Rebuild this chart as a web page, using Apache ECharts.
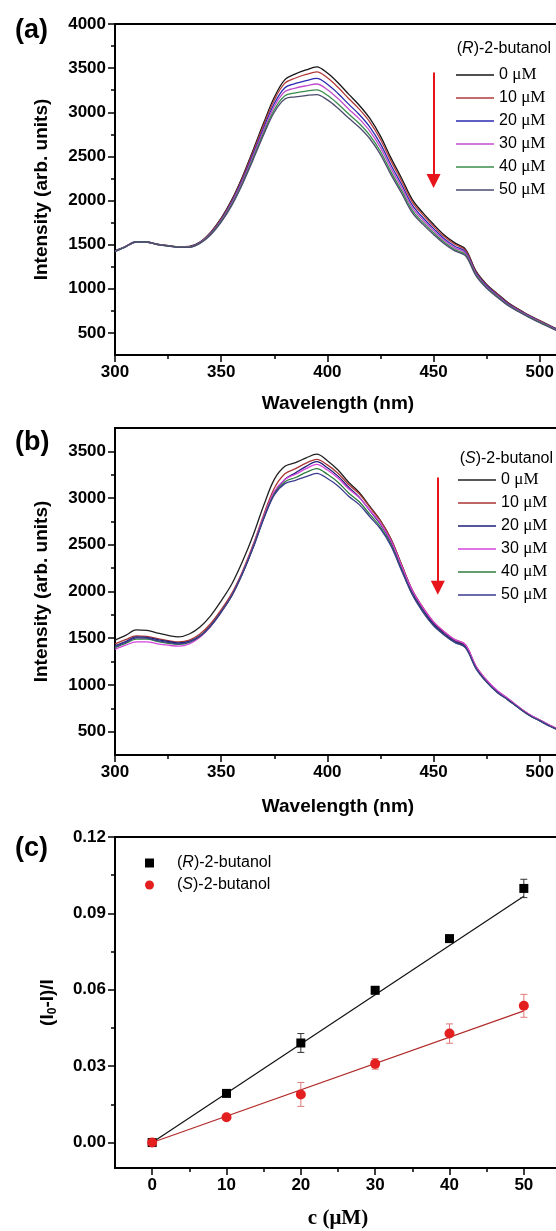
<!DOCTYPE html>
<html>
<head>
<meta charset="utf-8">
<script src="https://cdn.jsdelivr.net/npm/echarts@6/dist/echarts.min.js"></script>
<style>
  html, body { margin: 0; padding: 0; background: #fff; }
  #chart { width: 556px; height: 1231px; }
</style>
</head>
<body>
<div id="chart"></div>
<script>
// ---- data -------------------------------------------------------------
const wavelengths = [300,305,310,315,320,325,330,335,340,345,350,355,360,365,370,375,380,385,390,395,400,405,410,415,420,425,430,435,440,445,450,455,460,465,470,475,480,485,490,495,500,505,510];
const concentrations = [0, 10, 20, 30, 40, 50];

// (R)-2-butanol emission spectra
const rSpectrum0  = [1430,1480,1535,1530,1505,1490,1475,1480,1530,1640,1800,2010,2270,2570,2880,3170,3370,3435,3480,3515,3445,3335,3205,3080,2930,2730,2480,2250,2010,1860,1730,1610,1520,1450,1200,1050,945,845,770,700,640,580,525];
const rSpectrum10 = [1428,1479,1534,1530,1504,1489,1474,1478,1527,1635,1792,1998,2255,2550,2856,3139,3330,3388,3428,3458,3390,3283,3156,3035,2889,2692,2446,2219,1983,1837,1709,1592,1504,1437,1190,1042,938,839,765,696,636,576,521];
const rSpectrum20 = [1426,1478,1533,1530,1503,1488,1473,1476,1524,1627,1781,1983,2234,2524,2823,3099,3278,3326,3358,3383,3317,3213,3092,2975,2833,2642,2400,2179,1947,1805,1682,1568,1482,1419,1177,1031,928,830,757,690,630,572,517];
const rSpectrum30 = [1424,1477,1532,1530,1502,1487,1472,1474,1521,1621,1772,1970,2217,2502,2796,3065,3234,3274,3300,3320,3256,3155,3038,2925,2787,2600,2362,2145,1917,1779,1659,1548,1464,1404,1166,1022,920,823,751,685,625,568,513];
const rSpectrum40 = [1422,1476,1531,1530,1501,1486,1471,1472,1518,1615,1763,1956,2199,2479,2768,3029,3187,3219,3239,3254,3192,3094,2981,2873,2739,2556,2322,2109,1886,1752,1635,1527,1445,1388,1154,1013,912,816,745,679,619,563,508];
const rSpectrum50 = [1420,1475,1530,1530,1500,1485,1470,1470,1515,1610,1755,1945,2185,2460,2745,3000,3150,3175,3190,3200,3140,3045,2935,2830,2700,2520,2290,2080,1860,1730,1615,1510,1430,1375,1145,1005,905,810,740,675,615,560,505];

// (S)-2-butanol emission spectra
const sSpectrum0  = [1480,1530,1590,1585,1555,1530,1515,1545,1620,1740,1900,2080,2320,2600,2920,3200,3340,3380,3430,3470,3400,3300,3170,3060,2910,2760,2560,2280,2010,1820,1665,1560,1475,1420,1190,1040,930,850,760,680,620,560,510];
const sSpectrum10 = [1440,1485,1525,1520,1495,1475,1460,1480,1545,1655,1805,1980,2215,2500,2820,3105,3260,3315,3375,3415,3355,3265,3145,3045,2900,2755,2560,2285,2015,1830,1675,1570,1485,1430,1200,1050,935,855,765,685,625,565,515];
const sSpectrum20 = [1420,1465,1515,1510,1485,1465,1450,1465,1525,1635,1785,1960,2195,2475,2790,3060,3200,3270,3340,3390,3325,3235,3115,3010,2865,2720,2525,2250,1985,1800,1650,1545,1465,1410,1185,1035,925,845,755,680,620,560,510];
const sSpectrum30 = [1380,1425,1460,1460,1440,1425,1415,1440,1510,1625,1780,1960,2200,2485,2800,3070,3200,3255,3315,3360,3300,3215,3100,3005,2870,2730,2540,2270,2010,1825,1675,1570,1485,1430,1200,1050,940,855,765,685,625,565,515];
const sSpectrum40 = [1400,1445,1490,1490,1465,1445,1435,1455,1520,1630,1780,1955,2190,2470,2780,3045,3175,3220,3275,3315,3255,3170,3055,2960,2825,2690,2500,2230,1970,1785,1635,1535,1455,1400,1175,1030,920,840,755,675,615,555,505];
const sSpectrum50 = [1410,1455,1505,1500,1475,1455,1440,1460,1520,1630,1780,1955,2190,2465,2775,3035,3155,3190,3230,3265,3210,3130,3020,2930,2800,2670,2485,2220,1965,1780,1635,1535,1455,1400,1175,1030,920,840,755,675,615,555,505];

// Stern-Volmer style quenching, (I0 - I)/I
const rQuench = [0, 0.0193, 0.0391, 0.0598, 0.0801, 0.0998];
const rError  = [0.0005, 0.0008, 0.0037, 0.0013, 0.0010, 0.0036];
const sQuench = [0, 0.0099, 0.0189, 0.0309, 0.0428, 0.0537];
const sError  = [0.0005, 0.0005, 0.0047, 0.0021, 0.0038, 0.0045];
const fitX    = [0, 50];
const rFit    = [0, 0.0967];
const sFit    = [0, 0.0517];

// tick labels
const spectraTicksX = [300, 350, 400, 450, 500];
const spectraMinorX = [325, 375, 425, 475];
const rTicksY = [500, 1000, 1500, 2000, 2500, 3000, 3500, 4000];
const rMinorY = [750, 1250, 1750, 2250, 2750, 3250, 3750];
const sTicksY = [500, 1000, 1500, 2000, 2500, 3000, 3500];
const sMinorY = [750, 1250, 1750, 2250, 2750, 3250];
const quenchTicksX = [0, 10, 20, 30, 40, 50];
const quenchMinorX = [5, 15, 25, 35, 45];
const quenchTicksY = [0, 0.03, 0.06, 0.09, 0.12];
const quenchMinorY = [0.015, 0.045, 0.075, 0.105];

// ---- styling helpers --------------------------------------------------
const SANS = 'Liberation Sans, Arial, sans-serif';
const SERIF = 'Liberation Serif, Times New Roman, serif';
const rColors = ['#151515', '#b33a3a', '#2b2bb0', '#c24ccc', '#3a8c4c', '#4b4b6e'];
const sColors = ['#202020', '#aa3535', '#1e1e7a', '#d444dc', '#2f7c40', '#3b3b8e'];

const tickFont = { color: '#000', fontFamily: SANS, fontWeight: 'bold', fontSize: 17 };
const titleFont = { color: '#000', fontFamily: SANS, fontWeight: 'bold', fontSize: 19 };

function plainNumber(v) { return String(v); }

function mainAxis(grid, min, max, ticks, extra) {
  return Object.assign({
    type: 'value', gridIndex: grid, min: min, max: max,
    axisLine: { show: true, onZero: false, lineStyle: { color: '#000', width: 2 } },
    axisTick: { show: true, customValues: ticks, length: 7, lineStyle: { color: '#000', width: 1.5 } },
    axisLabel: Object.assign({ customValues: ticks, margin: 9, formatter: plainNumber }, tickFont),
    splitLine: { show: false }
  }, extra || {});
}
function minorAxis(grid, min, max, ticks, position) {
  return {
    type: 'value', gridIndex: grid, min: min, max: max, position: position,
    axisLine: { show: false, onZero: false },
    axisTick: { show: true, customValues: ticks, length: 4, lineStyle: { color: '#000', width: 1.5 } },
    axisLabel: { show: false },
    splitLine: { show: false }
  };
}

const gridBox = { show: true, borderColor: '#000', borderWidth: 2, backgroundColor: 'transparent', outerBoundsMode: 'none', containLabel: false };

function spectrumSeries(prefix, arrays, colors, xIdx, yIdx, arrow) {
  return arrays.map(function (arr, k) {
    const s = {
      name: prefix + '-' + concentrations[k],
      type: 'line', xAxisIndex: xIdx, yAxisIndex: yIdx,
      data: wavelengths.map(function (w, i) { return [w, arr[i]]; }),
      showSymbol: false, smooth: 0.35,
      lineStyle: { color: colors[k], width: 1.3 },
      itemStyle: { color: colors[k] },
      z: 2 + k
    };
    if (k === 0 && arrow) {
      s.markLine = {
        silent: true, animation: false,
        symbol: ['none', 'triangle'], symbolSize: [14, 14],
        lineStyle: { color: '#e8141c', width: 2, type: 'solid' },
        itemStyle: { color: '#e8141c' },
        label: { show: false },
        data: [[{ coord: [arrow[0], arrow[1]] }, { coord: [arrow[0], arrow[2]] }]]
      };
    }
    return s;
  });
}

function errorBars(values, errors, color, xIdx, yIdx) {
  return {
    type: 'custom', xAxisIndex: xIdx, yAxisIndex: yIdx, z: 3,
    data: concentrations.map(function (c, i) { return [c, values[i], errors[i]]; }),
    encode: { x: 0, y: 1 },
    renderItem: function (params, api) {
      const x = api.value(0), y = api.value(1), e = api.value(2);
      const hi = api.coord([x, y + e]);
      const lo = api.coord([x, y - e]);
      const cap = 3.5;
      const st = { stroke: color, lineWidth: 1 };
      return {
        type: 'group', children: [
          { type: 'line', shape: { x1: hi[0], y1: hi[1], x2: lo[0], y2: lo[1] }, style: st },
          { type: 'line', shape: { x1: hi[0] - cap, y1: hi[1], x2: hi[0] + cap, y2: hi[1] }, style: st },
          { type: 'line', shape: { x1: lo[0] - cap, y1: lo[1], x2: lo[0] + cap, y2: lo[1] }, style: st }
        ]
      };
    }
  };
}

const concLegendRich = {
  d: { fontFamily: SANS, fontSize: 16, color: '#000' },
  u: { fontFamily: SERIF, fontSize: 17, color: '#000' }
};
function concFormatter(name) { return '{d|' + name.split('-')[1] + ' }{u|μM}'; }
const italicRich = { i: { fontFamily: SANS, fontStyle: 'italic', fontSize: 16, color: '#000' } };

const option = {
  animation: false,
  backgroundColor: '#fff',
  title: [
    { text: '(a)', left: 10, top: 12, textStyle: { fontFamily: SANS, fontWeight: 'bold', fontSize: 27, color: '#000' } },
    { text: '(b)', left: 10, top: 424, textStyle: { fontFamily: SANS, fontWeight: 'bold', fontSize: 27, color: '#000' } },
    { text: '(c)', left: 10, top: 830, textStyle: { fontFamily: SANS, fontWeight: 'bold', fontSize: 27, color: '#000' } },
    { text: '({i|R})-2-butanol', right: 0, top: 36, textStyle: { fontFamily: SANS, fontWeight: 'normal', fontSize: 16, color: '#000', rich: italicRich } },
    { text: '({i|S})-2-butanol', right: -2, top: 446, textStyle: { fontFamily: SANS, fontWeight: 'normal', fontSize: 16, color: '#000', rich: italicRich } }
  ],
  legend: [
    {
      orient: 'vertical', left: 451, top: 61, itemWidth: 38, itemHeight: 1.5, itemGap: 5, icon: 'rect',
      data: concentrations.map(function (c) { return 'R-' + c; }),
      formatter: concFormatter, selectedMode: false,
      textStyle: { lineHeight: 18, rich: concLegendRich }
    },
    {
      orient: 'vertical', left: 453, top: 466, itemWidth: 38, itemHeight: 1.5, itemGap: 5, icon: 'rect',
      data: concentrations.map(function (c) { return 'S-' + c; }),
      formatter: concFormatter, selectedMode: false,
      textStyle: { lineHeight: 18, rich: concLegendRich }
    },
    {
      orient: 'vertical', left: 140, top: 850, itemWidth: 9, itemHeight: 9, itemGap: 6, selectedMode: false,
      data: [{ name: 'R-points', icon: 'rect' }, { name: 'S-points', icon: 'circle' }],
      formatter: function (name) { return name === 'R-points' ? '({i|R})-2-butanol' : '({i|S})-2-butanol'; },
      textStyle: { fontFamily: SANS, fontSize: 16, color: '#000', lineHeight: 16, padding: [0, 0, 0, 18], rich: italicRich }
    }
  ],
  grid: [
    Object.assign({ left: 115, top: 24, width: 446, height: 331 }, gridBox),
    Object.assign({ left: 115, top: 428, width: 446, height: 327 }, gridBox),
    Object.assign({ left: 115, top: 837, width: 446, height: 331 }, gridBox)
  ],
  xAxis: [
    mainAxis(0, 300, 510, spectraTicksX, { position: 'bottom', name: 'Wavelength (nm)', nameLocation: 'middle', nameGap: 39, nameTextStyle: titleFont }),
    minorAxis(0, 300, 510, spectraMinorX, 'bottom'),
    mainAxis(1, 300, 510, spectraTicksX, { position: 'bottom', name: 'Wavelength (nm)', nameLocation: 'middle', nameGap: 42, nameTextStyle: titleFont }),
    minorAxis(1, 300, 510, spectraMinorX, 'bottom'),
    mainAxis(2, -5, 55, quenchTicksX, { position: 'bottom', name: 'c (μM)', nameLocation: 'middle', nameGap: 40,
      nameTextStyle: { color: '#000', fontFamily: SERIF, fontWeight: 'bold', fontSize: 21 } }),
    minorAxis(2, -5, 55, quenchMinorX, 'bottom')
  ],
  yAxis: [
    mainAxis(0, 250, 4000, rTicksY, { position: 'left', name: 'Intensity (arb. units)', nameLocation: 'middle', nameGap: 64, nameTextStyle: titleFont }),
    minorAxis(0, 250, 4000, rMinorY, 'left'),
    mainAxis(1, 250, 3750, sTicksY, { position: 'left', name: 'Intensity (arb. units)', nameLocation: 'middle', nameGap: 64, nameTextStyle: titleFont }),
    minorAxis(1, 250, 3750, sMinorY, 'left'),
    mainAxis(2, -0.01, 0.12, quenchTicksY, {
      position: 'left', name: '(I{sub|0}-I)/I', nameLocation: 'middle', nameGap: 56,
      nameTextStyle: Object.assign({ rich: { sub: { fontFamily: SANS, fontWeight: 'bold', fontSize: 12, color: '#000', padding: [10, 0, 0, 0] } } }, titleFont),
      axisLabel: Object.assign({ customValues: quenchTicksY, margin: 9, formatter: function (v) { return v.toFixed(2); } }, tickFont)
    }),
    minorAxis(2, -0.01, 0.12, quenchMinorY, 'left')
  ],
  series: [].concat(
    spectrumSeries('R', [rSpectrum0, rSpectrum10, rSpectrum20, rSpectrum30, rSpectrum40, rSpectrum50], rColors, 0, 0, [450, 3450, 2220]),
    spectrumSeries('S', [sSpectrum0, sSpectrum10, sSpectrum20, sSpectrum30, sSpectrum40, sSpectrum50], sColors, 2, 2, [452, 3220, 2040]),
    [
      { type: 'line', xAxisIndex: 4, yAxisIndex: 4, showSymbol: false, z: 2,
        data: fitX.map(function (x, i) { return [x, rFit[i]]; }), lineStyle: { color: '#111', width: 1.2 } },
      { type: 'line', xAxisIndex: 4, yAxisIndex: 4, showSymbol: false, z: 2,
        data: fitX.map(function (x, i) { return [x, sFit[i]]; }), lineStyle: { color: '#b22c2c', width: 1.2 } },
      errorBars(rQuench, rError, '#333', 4, 4),
      errorBars(sQuench, sError, '#e07a7a', 4, 4),
      { name: 'R-points', type: 'scatter', xAxisIndex: 4, yAxisIndex: 4, symbol: 'rect', symbolSize: 9, z: 4,
        data: concentrations.map(function (c, i) { return [c, rQuench[i]]; }), itemStyle: { color: '#000', opacity: 1 } },
      { name: 'S-points', type: 'scatter', xAxisIndex: 4, yAxisIndex: 4, symbol: 'circle', symbolSize: 10, z: 5,
        data: concentrations.map(function (c, i) { return [c, sQuench[i]]; }), itemStyle: { color: '#e41f1f', opacity: 1 } }
    ]
  )
};

const chart = echarts.init(document.getElementById('chart'), null, { renderer: 'canvas' });
chart.setOption(option);
</script>
</body>
</html>
